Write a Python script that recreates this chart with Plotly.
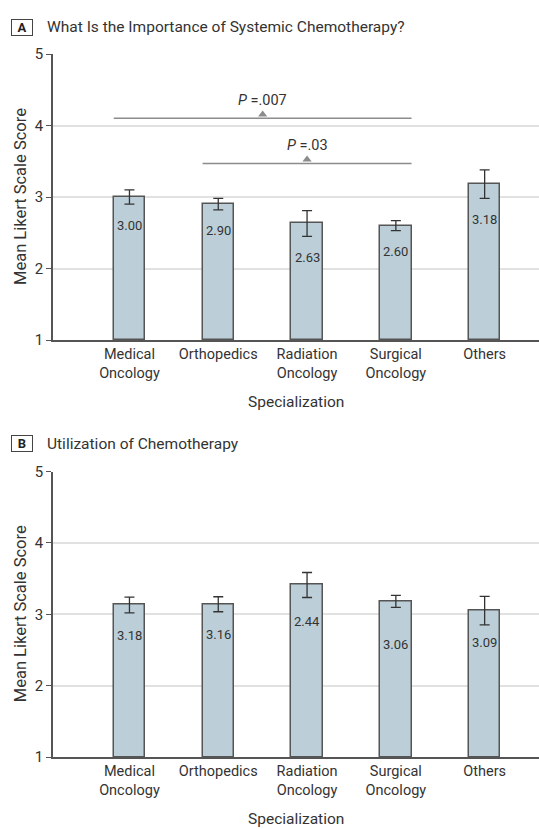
import plotly.graph_objects as go

# ---------------- data ----------------
categories = ["Medical<br>Oncology", "Orthopedics", "Radiation<br>Oncology", "Surgical<br>Oncology", "Others"]

a_title = "What Is the Importance of Systemic Chemotherapy?"
a_means = [3.00, 2.90, 2.63, 2.60, 3.18]
a_errors = [0.10, 0.08, 0.18, 0.07, 0.20]
a_labels = ["3.00", "2.90", "2.63", "2.60", "3.18"]
a_brackets_from = [0, 1]
a_brackets_to = [3, 3]
a_brackets_level = [4.10, 3.47]
a_brackets_text = ["<i>P</i> =.007", "<i>P</i> =.03"]

b_title = "Utilization of Chemotherapy"
b_means = [3.13, 3.14, 3.41, 3.18, 3.05]
b_errors = [0.11, 0.105, 0.175, 0.085, 0.20]
b_labels = ["3.18", "3.16", "2.44", "3.06", "3.09"]

y_ticks = [1, 2, 3, 4, 5]
x_title = "Specialization"
y_title = "Mean Likert Scale Score"

# ---------------- style ----------------
FONT = "Roboto, 'Open Sans', sans-serif"
TXT = "#333333"
BAR = "#bccfd9"
EDGE = "#555555"
GRID = "#e1e1e1"
BRK = "#8c8c8c"
BAR_W = 0.353
W, H = 539, 829
ML, MR, MT, MB = 53, 0, 54, 72
PH = H - MT - MB

def py(px):  # pixel (from top) -> paper y
    return (H - MB - px) / PH

def pxx(px):  # pixel (from left) -> paper x
    return (px - ML) / (W - ML - MR)

xs = list(range(len(categories)))
fig = go.Figure()

panels = [
    ("x", "y", a_means, a_errors, a_labels, [-21] * 5),
    ("x2", "y2", b_means, b_errors, b_labels, [-23, -23, -24, -37, -18]),
]
for xa, ya, means, errs, labels, shifts in panels:
    fig.add_trace(go.Bar(
        x=xs, y=[m - 1 for m in means], base=1, width=BAR_W,
        marker=dict(color=BAR, line=dict(color=EDGE, width=1.5)),
        error_y=dict(type="data", array=errs, color="#333333", thickness=1.3, width=5),
        xaxis=xa, yaxis=ya, hoverinfo="skip", showlegend=False,
    ))
    for i, (m, e, lab, s) in enumerate(zip(means, errs, labels, shifts)):
        fig.add_annotation(x=i, y=m - e, xref=xa, yref=ya, text=lab, showarrow=False,
                           yanchor="middle", yshift=s, font=dict(family=FONT, size=13, color=TXT))

# significance brackets (panel A)
for f, t, lev, txt in zip(a_brackets_from, a_brackets_to, a_brackets_level, a_brackets_text):
    x0, x1 = f - BAR_W / 2, t + BAR_W / 2
    xm = (x0 + x1) / 2
    fig.add_trace(go.Scatter(x=[x0, x1], y=[lev, lev], mode="lines",
                             line=dict(color=BRK, width=1.5), xaxis="x", yaxis="y",
                             hoverinfo="skip", showlegend=False))
    fig.add_trace(go.Scatter(x=[xm], y=[lev + 0.055], mode="markers",
                             marker=dict(symbol="triangle-up", size=8, color=BRK),
                             xaxis="x", yaxis="y", hoverinfo="skip", showlegend=False))
    fig.add_annotation(x=xm, y=lev, xref="x", yref="y", text=txt, showarrow=False,
                       yanchor="middle", yshift=18, font=dict(family=FONT, size=14.5, color=TXT))

xrange = [-0.861, 4.612]
dom_a = [py(340), 1.0]
dom_b = [0.0, py(471.5)]

def xaxis(dom_anchor):
    return dict(range=xrange, tickvals=xs, ticktext=categories, showgrid=False, zeroline=False,
                showline=True, linecolor=EDGE, linewidth=1.5, ticks="",
                tickfont=dict(family=FONT, size=14.5, color=TXT),
                anchor=dom_anchor, fixedrange=True)

def yaxis(dom):
    return dict(range=[1, 5], tickvals=y_ticks, domain=dom, showgrid=True, gridcolor=GRID,
                gridwidth=1.5, zeroline=False, showline=True, linecolor=EDGE, linewidth=1.5,
                ticks="outside", ticklen=5, tickcolor=EDGE, tickwidth=1.2,
                tickfont=dict(family=FONT, size=15, color=TXT), fixedrange=True)

fig.update_layout(
    width=W, height=H, margin=dict(l=ML, r=MR, t=MT, b=MB),
    paper_bgcolor="white", plot_bgcolor="white", bargap=0, showlegend=False,
    hovermode=False, font=dict(family=FONT, color=TXT),
    xaxis=xaxis("y"), yaxis=yaxis(dom_a),
    xaxis2=xaxis("y2"), yaxis2=yaxis(dom_b),
)

# panel letters, titles, axis titles
for letter, title, cy, ybottom, ydom in [("A", a_title, 27, 340, dom_a), ("B", b_title, 443.5, 757, dom_b)]:
    fig.add_annotation(xref="paper", yref="paper", x=pxx(22), y=py(cy), text="<b>" + letter + "</b>",
                       showarrow=False, xanchor="center", yanchor="middle", width=18, height=13,
                       bordercolor="#444444", borderwidth=1, borderpad=1,
                       font=dict(family=FONT, size=13, color="#222222"))
    fig.add_annotation(xref="paper", yref="paper", x=pxx(45), y=py(cy), text=title,
                       showarrow=False, xanchor="left", yanchor="middle",
                       font=dict(family=FONT, size=15.5, color=TXT))
    fig.add_annotation(xref="paper", yref="paper", x=pxx(296), y=py(ybottom + 62), text=x_title,
                       showarrow=False, xanchor="center", yanchor="middle",
                       font=dict(family=FONT, size=15.5, color=TXT))
    fig.add_annotation(xref="paper", yref="paper", x=pxx(20), y=(ydom[0] + ydom[1]) / 2, text=y_title,
                       showarrow=False, textangle=-90, xanchor="center", yanchor="middle",
                       font=dict(family=FONT, size=16.5, color=TXT))

fig.write_html("out.html", config={"displayModeBar": False},
               post_script="document.body.style.margin='0';document.body.style.overflow='hidden';")
